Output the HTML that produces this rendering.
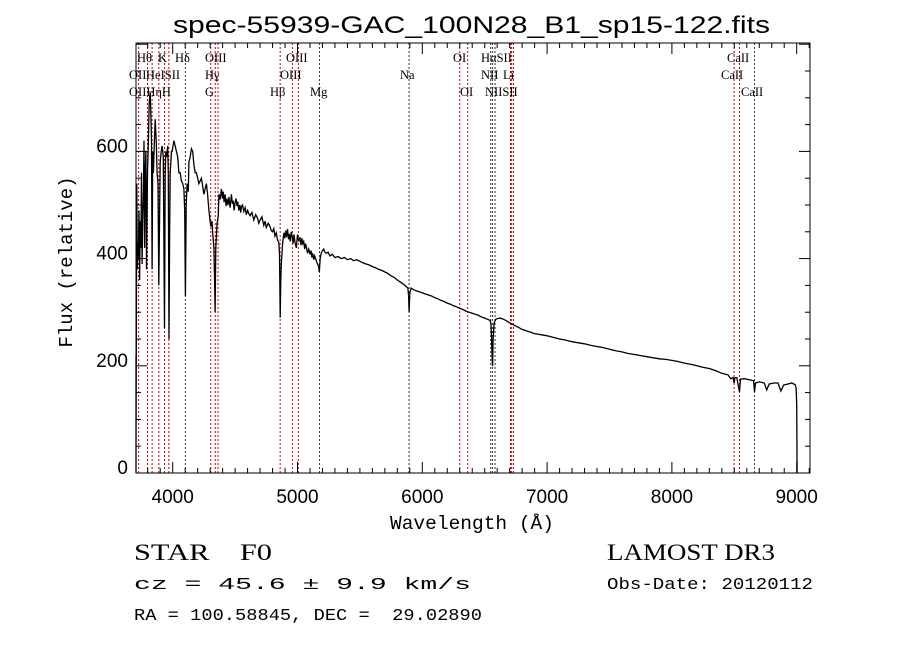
<!DOCTYPE html>
<html><head><meta charset="utf-8"><style>
body{margin:0;background:#fff;}
svg{display:block;}
.mono{font-family:"Liberation Mono",monospace;}
.ser{font-family:"Liberation Serif",serif;}
</style></head><body>
<svg id="chart" width="900" height="649" viewBox="0 0 900 649" xmlns="http://www.w3.org/2000/svg">
<rect width="900" height="649" fill="#fff"/>
<text x="173" y="33" textLength="597" lengthAdjust="spacingAndGlyphs" font-family="Liberation Sans, sans-serif" font-size="24">spec-55939-GAC_100N28_B1_sp15-122.fits</text>
<g id="lines"></g>
<g id="labels" class="ser" font-size="12.5"></g>
<polyline id="spec" fill="none" stroke="#000" stroke-width="1.3"/>
<rect x="136" y="43" width="674" height="430" fill="none" stroke="#000" stroke-width="1"/>
<g id="ticks" stroke="#000" stroke-width="1"></g>
<g id="ticklabels" font-family="Liberation Sans, sans-serif" font-size="19"></g>
<text x="390" y="529" textLength="164" lengthAdjust="spacingAndGlyphs" class="mono" font-size="19">Wavelength (Å)</text>
<text transform="translate(72,262) rotate(-90)" text-anchor="middle" class="mono" font-size="19">Flux (relative)</text>
<text x="134" y="560" textLength="138" lengthAdjust="spacingAndGlyphs" xml:space="preserve" font-family="Liberation Serif, serif" font-size="23">STAR    F0</text>
<text x="134" y="589" textLength="337" lengthAdjust="spacingAndGlyphs" class="mono" font-size="17">cz = 45.6 ± 9.9 km/s</text>
<text x="134" y="620" textLength="348" lengthAdjust="spacingAndGlyphs" class="mono" font-size="17" xml:space="preserve">RA = 100.58845, DEC =  29.02890</text>
<text x="607" y="560" textLength="168" lengthAdjust="spacingAndGlyphs" font-family="Liberation Serif, serif" font-size="23">LAMOST DR3</text>
<text x="607" y="589" textLength="206" lengthAdjust="spacingAndGlyphs" class="mono" font-size="17">Obs-Date: 20120112</text>
</svg>
<script>
const wave=[3690,3700,3703,3705,3712,3716,3720,3725,3730,3735,3740,3745,3750,3755,3760,3765,3770,3775,3780,3785,3790,3794,3798,3805,3812,3820,3826,3830,3835,3840,3845,3852,3860,3868,3875,3882,3889,3895,3900,3908,3915,3925,3934,3940,3945,3952,3960,3965,3970,3975,3980,3990,3995,4010,4020,4030,4040,4050,4060,4070,4080,4090,4096,4102,4108,4115,4125,4130,
4140,4150,4160,4170,4180,4190,4200,4210,4220,4230,
4240,4250,4260,4270,4280,4290,4300,4305,4315,4320,
4330,4336,4340,4345,4355,4365,4370,4380,4390,4398,
4405,4412,4420,4428,4435,4442,4450,4460,4470,4478,
4485,4492,4500,4508,4515,4522,4530,4538,4545,4552,
4560,4570,4580,4590,4600,4610,4620,4635,4650,4665,
4680,4690,4700,4715,4730,4740,4750,4765,4780,4790,
4800,4810,4820,4830,4840,4850,4856,4861,4866,4870,
4880,4890,4898,4905,4912,4920,4928,4935,4942,4950,
4958,4965,4972,4980,4990,5000,5010,5020,5028,5035,
5042,5050,5058,5065,5072,5080,5090,5100,5108,5115,
5122,5130,5138,5145,5152,5160,5170,5175,5182,5190,
5200,5210,5220,5230,5245,5260,5280,5300,5325,5350,
5375,5400,5425,5450,5475,5500,5525,5550,5575,5600,
5625,5650,5675,5700,5725,5750,5775,5800,5825,5850,
5870,5885,5890,5894,5900,5910,5930,5950,5975,6000,
6025,6050,6075,6100,6125,6150,6175,6200,6225,6250,
6275,6300,6325,6350,6375,6400,6425,6450,6475,6500,
6520,6540,6550,6555,6560,6563,6567,6575,6590,6600,
6625,6650,6675,6700,6725,6750,6775,6800,6850,6900,
6950,7000,7050,7100,7150,7200,7250,7300,7350,7400,
7450,7500,7550,7600,7650,7700,7750,7800,7850,7900,
7950,8000,8050,8100,8150,8200,8250,8300,8350,8400,
8450,8470,8490,8498,8505,8520,8542,8550,8580,8620,
8655,8662,8670,8700,8740,8760,8780,8820,8850,8873,
8895,8930,8960,8987,8995,9000,9003];
const flux=[0,0,220,30,540,380,430,400,490,360,470,420,560,390,470,520,620,420,560,600,380,470,560,620,690,710,660,620,380,600,560,610,660,620,560,540,350,480,580,600,610,590,270,560,600,590,610,560,250,440,560,600,600,620,610,600,590,560,560,545,540,530,490,330,500,540,525,580,
590,605,600,575,560,560,550,540,545,550,
535,520,530,540,520,490,470,460,470,450,
420,360,300,420,465,480,520,510,530,512,
525,505,520,498,512,500,515,495,520,502,
508,490,505,512,498,506,490,500,486,498,
500,488,495,482,490,484,480,486,472,482,
475,466,472,478,462,470,458,466,460,452,
450,456,442,448,435,430,410,290,360,390,
425,448,438,452,440,455,436,446,432,450,
440,428,445,430,420,445,432,440,425,438,
428,432,418,428,420,410,418,408,415,402,
410,398,405,400,395,390,385,375,400,410,
415,418,412,410,412,405,408,402,404,400,
402,398,400,396,398,395,392,390,388,385,
383,380,378,375,372,368,365,360,356,352,
348,345,330,300,335,345,342,340,338,336,
334,332,330,327,325,322,320,317,315,312,
310,307,305,302,300,298,296,294,291,289,
287,285,280,250,210,200,250,280,287,288,
289,287,284,280,277,274,271,268,264,260,
258,256,253,250,248,245,243,241,238,236,
234,231,228,226,223,221,219,217,215,213,
212,210,208,205,203,200,197,195,191,186,
183,176,178,168,178,178,151,175,176,174,
172,151,168,170,168,155,166,168,168,153,
164,166,168,165,159,130,0];
const lineW=[3727,3798,3835,3889,3934,3969,4102,4305,4341,4363,4861,4959,5007,5176,5894,6300,6364,6548,6563,6583,6707,6716,6731,8498,8542,8662];
const lineC=["r","r","r","r","r","r","k","r","r","r","r","r","r","k","k","r","r","k","k","k","r","r","r","r","r","k"];
const labelText=["Hθ","K","Hδ","OIII","OIII","OI","HαSII","CaII","OII","HeISII","Hγ","OIII","Na","NII","Li","CaII","OIIHηH","G","Hβ","Mg","OI","NIISII","CaII"];
const labelX=[137,158,175,205,286,453,481,727,129,146,205,280,400,481,503,721,129,205,270,310,460,485,741];
const labelRow=[0,0,0,0,0,0,0,0,1,1,1,1,1,1,1,1,2,2,2,2,2,2,2];
const xTicks=[4000,5000,6000,7000,8000,9000];
const yTicks=[0,200,400,600];
const NS="http://www.w3.org/2000/svg";
const L=136,R=810,T=43,B=473;
function xs(w){return 172.7+(w-4000)*0.1248;}
function ys(v){return B-v*0.536;}
function mk(tag,attrs,parent){const e=document.createElementNS(NS,tag);for(const k in attrs)e.setAttribute(k,attrs[k]);parent.appendChild(e);return e;}
const pts=[];
const n=Math.min(wave.length,flux.length);
for(let i=0;i<n;i++){let x=Math.max(L,xs(wave[i]));pts.push(x.toFixed(1)+","+ys(flux[i]).toFixed(1));}
document.getElementById('spec').setAttribute('points',pts.join(' '));
const lg=document.getElementById('lines');
for(let i=0;i<lineW.length;i++){
 const ln=mk('line',{x1:xs(lineW[i]),x2:xs(lineW[i]),y1:T,y2:B,stroke:lineC[i]==="r"?"#c00000":"#333","stroke-width":1,"stroke-dasharray":"2,2"},lg);
 
 
}
const lb=document.getElementById('labels');
const rowY=[62,79,96];
for(let i=0;i<labelText.length;i++){
 const t=mk('text',{x:labelX[i],y:rowY[labelRow[i]]},lb);
 t.textContent=labelText[i];
 
 
}
const tg=document.getElementById('ticks');const tl=document.getElementById('ticklabels');
for(let w=3700;w<=9100;w+=100){
 const x=xs(w);if(x<L||x>R)continue;
 const len=(w%1000===0)?11:5;
 mk('line',{x1:x,x2:x,y1:B,y2:B-len},tg);mk('line',{x1:x,x2:x,y1:T,y2:T+len},tg);
}
for(const w of xTicks){
 const t=mk('text',{x:xs(w),y:503,"text-anchor":"middle"},tl);t.textContent=w;
 
 
}
for(let v=0;v<=800;v+=50){
 const y=ys(v);if(y<T)continue;
 const len=(v%200===0)?11:5;
 mk('line',{x1:L,x2:L+len,y1:y,y2:y},tg);mk('line',{x1:R,x2:R-len,y1:y,y2:y},tg);
}
for(const v of yTicks){
 const t=mk('text',{x:128,y:ys(v)+1,"text-anchor":"end"},tl);t.textContent=v;
 
 
}
</script>
</body></html>
